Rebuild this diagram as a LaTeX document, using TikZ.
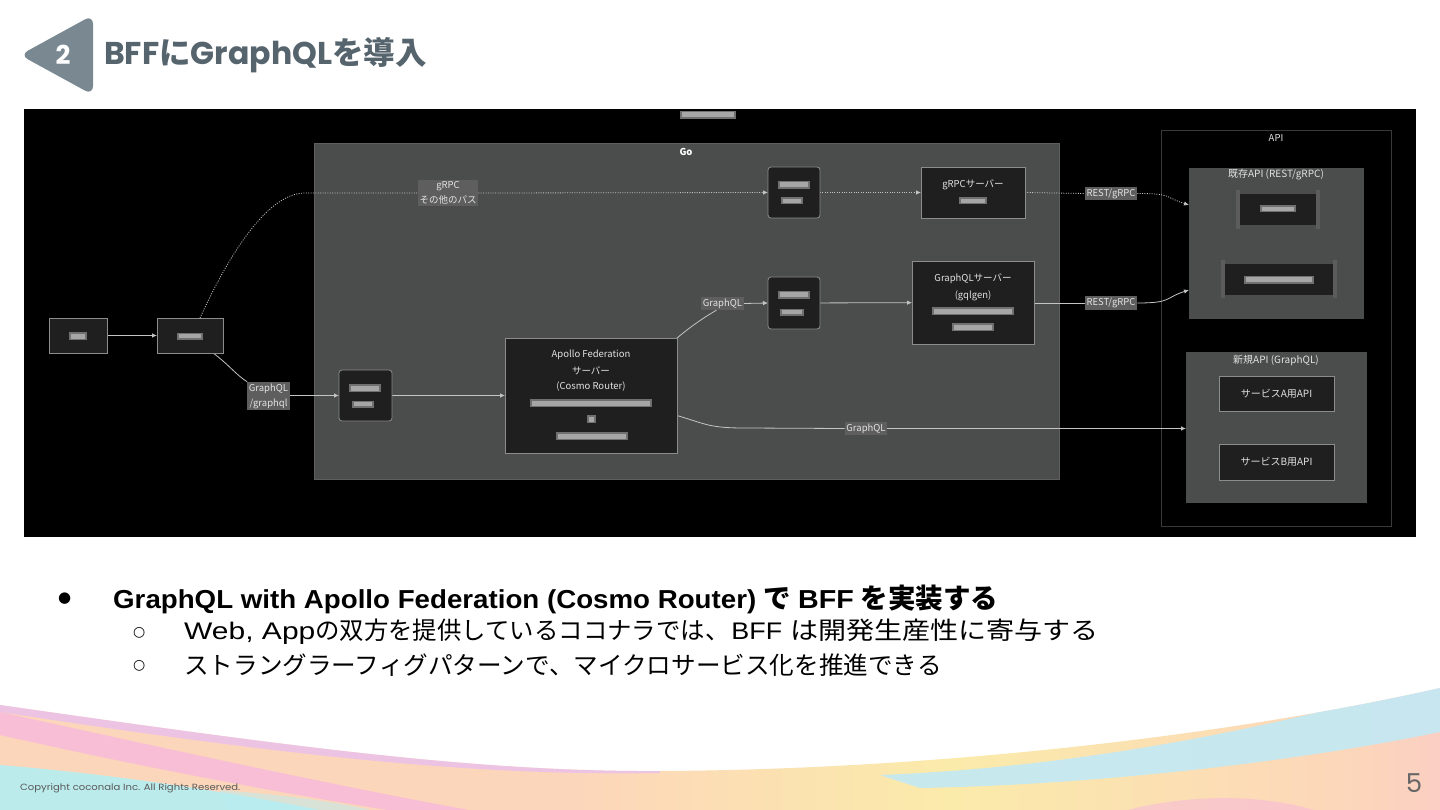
\documentclass[tikz,border=0pt]{standalone}
\usepackage{graphicx}
\usepackage{fontspec}
\setmainfont{Liberation Sans}
\newfontfamily\jp{Noto Sans CJK JP}
\newfontfamily\pop{Poppins}
\newfontfamily\dv{DejaVu Sans}
\usetikzlibrary{arrows.meta,calc}

\definecolor{titlec}{HTML}{56646D}
\definecolor{trig}{HTML}{7A8891}
\definecolor{gobg}{HTML}{4B4C4C}
\definecolor{gobd}{HTML}{5E5E5E}
\definecolor{apibd}{HTML}{3A3A3A}
\definecolor{nodebg}{HTML}{1F1F1F}
\definecolor{nodebd}{HTML}{8C8C8C}
\definecolor{lblbg}{HTML}{5E5E5E}
\definecolor{edgec}{HTML}{C4C4C4}
\definecolor{txt}{HTML}{E2E2E2}
\definecolor{blurA}{HTML}{707070}
\definecolor{blurB}{HTML}{A6A6A6}
\definecolor{sidebar}{HTML}{5C5C5C}
\definecolor{rpink}{HTML}{F7B8DD}
\definecolor{rlav}{HTML}{E9BDF2}
\definecolor{rpeach}{HTML}{FCD6BA}
\definecolor{ryellow}{HTML}{FBEBAA}
\definecolor{rcyan}{HTML}{B6EEF2}
\definecolor{rblue}{HTML}{C2E9F5}

\pgfdeclarehorizontalshading{rainbowh}{100bp}{color(0bp)=(ryellow); color(20bp)=(rpeach); color(45bp)=(rpeach); color(58bp)=(ryellow); color(72bp)=(rpeach); color(84bp)=(rpink); color(93bp)=(ryellow); color(100bp)=(ryellow)}

\pgfdeclarelayer{bg}
\pgfdeclarelayer{edges}
\pgfsetlayers{bg,edges,main}

\newcommand{\blurbar}[4]{%
  \fill[blurA] ({#1-#3/2},{#2-#4/2}) rectangle ++(#3,#4);
  \fill[blurB] ({#1-#3/2+2},{#2-#4/2+1.5}) rectangle ++({#3-4},{#4-3});}

\tikzset{
  panel/.style={inner sep=0, outer sep=0},
  box/.style={draw=nodebd, fill=nodebg, line width=0.8pt, inner sep=0, outer sep=0},
  rbox/.style={box, rounded corners=3pt},
  dtext/.style={text=txt, font=\jp\fontsize{9.5}{12}\selectfont, inner sep=0, align=center},
  ttext/.style={text=txt, font=\jp\bfseries\fontsize{9.5}{12}\selectfont, inner sep=0},
  lbl/.style={fill=lblbg, text=txt, font=\jp\fontsize{9.5}{15}\selectfont, inner sep=1.6pt, align=center},
  eline/.style={draw=edgec, line width=0.8pt},
  edge/.style={eline, -{Latex[length=5pt,width=4.5pt]}},
  dline/.style={draw=edgec, line width=0.8pt, dash pattern=on 1pt off 1.4pt},
  darrow/.style={dline, -{Latex[length=5pt,width=4.5pt]}},
  bullet/.style={anchor=west, inner sep=0},
}

\begin{document}
\begin{tikzpicture}[x=1pt,y=-1pt]
\useasboundingbox (0,0) rectangle (1440,810);
\begin{pgfonlayer}{bg}
\fill[white] (0,0) rectangle (1440,810);
\end{pgfonlayer}

% ---------- footer wave ----------
\begin{scope}
\clip (0,705) .. controls (300,748) and (480,772) .. (660,771) .. controls (900,770) and (1200,742) .. (1440,688) -- (1440,810) -- (0,810) -- cycle;
\shade[shading=rainbowh] (0,680) rectangle (1440,810);
\fill[rpink, opacity=0.8] (0,712) .. controls (150,745) and (330,785) .. (480,812) -- (400,812) .. controls (260,790) and (120,762) .. (0,735) -- cycle;
\fill[rlav, opacity=0.75] (0,700) .. controls (300,743) and (480,767) .. (660,766) -- (660,773) .. controls (480,776) and (300,758) .. (0,712) -- cycle;
\fill[rcyan, opacity=0.9] (0,765) .. controls (120,775) and (230,792) .. (330,812) -- (0,812) -- cycle;
\fill[rcyan, opacity=0.5] (220,790) .. controls (280,795) and (330,800) .. (380,812) -- (230,812) -- cycle;
\fill[rblue, opacity=0.9] (880,775) .. controls (1060,768) and (1250,735) .. (1440,680) -- (1440,732) .. controls (1290,763) and (1090,785) .. (920,788) -- cycle;
\fill[rpink, opacity=0.55] (1120,812) .. controls (1180,795) and (1260,792) .. (1320,812) -- cycle;
\end{scope}
\node[anchor=west, inner sep=0, text=black!65, font=\pop\fontsize{9}{10}\selectfont] (copy) at (20,788) {\scalebox{1.12}[1]{Copyright coconala Inc. All Rights Reserved.}};
\node[inner sep=0, text=black!60, font=\pop\fontsize{26}{30}\selectfont] (pnum) at (1414,783) {5};

% ---------- header ----------
\fill[trig, rounded corners=9pt] (20,55) -- (93,15) -- (93,95) -- cycle;
\node[text=white, font=\pop\bfseries\fontsize{26}{30}\selectfont, inner sep=0] (num) at (63,55) {2};
\node[anchor=west, inner sep=0, text=titlec, font=\fontsize{31.5}{36}\selectfont] (title) at (104,55)
  {{\pop\bfseries BFF}{\jp\bfseries に}{\pop\bfseries GraphQL}{\jp\bfseries を導入}};

% ---------- diagram panels ----------
\begin{pgfonlayer}{bg}
\node[panel, fill=black, minimum width=1392pt, minimum height=428pt] (panel) at (720,323) {};
\node[panel, fill=gobg, draw=gobd, line width=0.6pt, minimum width=745pt, minimum height=336pt] (gobox) at (686.5,311) {};
\node[panel, draw=apibd, line width=0.8pt, minimum width=230pt, minimum height=396pt] (apibox) at (1276,328) {};
\node[panel, fill=gobg, minimum width=175pt, minimum height=151pt] (kizon) at (1276.5,243.5) {};
\node[panel, fill=gobg, minimum width=181pt, minimum height=151pt] (shinki) at (1276.5,427.5) {};
\end{pgfonlayer}
\blurbar{708}{115}{56}{8}
\node[ttext, text=white] (golbl) at (686,152) {Go};
\node[dtext] (apilbl) at (1276,138) {API};
\node[dtext, font=\jp\fontsize{10}{12}\selectfont] (kzlbl) at (1276,175) {既存API (REST/gRPC)};
\node[dtext, font=\jp\fontsize{10}{12}\selectfont] (snlbl) at (1276,360) {新規API (GraphQL)};

% ---------- nodes ----------
\node[box, minimum width=58pt, minimum height=35pt] (n1) at (78,335.5) {};
\blurbar{78}{336}{18}{8}
\node[box, minimum width=66pt, minimum height=35pt] (n2) at (190,335.5) {};
\blurbar{190}{336}{26}{7}
\node[rbox, minimum width=53pt, minimum height=51pt] (n3) at (365.5,395.5) {};
\blurbar{365}{388}{32}{8}\blurbar{363}{404}{22}{7}
\node[box, minimum width=172pt, minimum height=115pt] (apollo) at (591,395.5) {};
\node[dtext] (ap1) at (591,355) {Apollo Federation};
\node[dtext] (ap2) at (591,371) {サーバー};
\node[dtext] (ap3) at (591,387) {(Cosmo Router)};
\blurbar{591}{403}{122}{8}\blurbar{591}{419}{9}{8}\blurbar{592}{436}{72}{8}
\node[rbox, minimum width=52pt, minimum height=51pt] (n4) at (794,192.5) {};
\blurbar{794}{185}{32}{8}\blurbar{792}{201}{22}{7}
\node[rbox, minimum width=52pt, minimum height=52pt] (n5) at (794,303) {};
\blurbar{794}{295}{32}{8}\blurbar{792}{312}{24}{7}
\node[box, minimum width=104pt, minimum height=51pt] (gs) at (973,192.5) {};
\node[dtext] (gs1) at (973,185) {gRPCサーバー};
\blurbar{973}{201}{28}{7}
\node[box, minimum width=122pt, minimum height=83pt] (gq) at (973,302.5) {};
\node[dtext] (gq1) at (973,279) {GraphQLサーバー};
\node[dtext] (gq2) at (973,296) {(gqlgen)};
\blurbar{973}{311}{82}{8}\blurbar{973}{327}{42}{8}
% existing API nodes
\fill[sidebar] (1236,190) rectangle (1240,229);
\fill[sidebar] (1316,190) rectangle (1320,229);
\node[panel, fill=nodebg, minimum width=76pt, minimum height=31pt] (kz1) at (1278,209.5) {};
\blurbar{1278}{209}{36}{7}
\fill[sidebar] (1221,260) rectangle (1225,298);
\fill[sidebar] (1333,260) rectangle (1337,298);
\node[panel, fill=nodebg, minimum width=108pt, minimum height=31pt] (kz2) at (1279,279.5) {};
\blurbar{1279}{280}{70}{8}
% new API nodes
\node[box, minimum width=115pt, minimum height=35pt, text=txt, font=\jp\fontsize{10}{12}\selectfont] (sa) at (1276.5,393.5) {サービスA用API};
\node[box, minimum width=115pt, minimum height=36pt, text=txt, font=\jp\fontsize{10}{12}\selectfont] (sb) at (1276.5,462) {サービスB用API};

% ---------- edge labels ----------
\node[lbl] (l1) at (268.5,396) {GraphQL\\/graphql};
\node[lbl] (lg) at (448,193) {gRPC\\その他のパス};
\node[lbl] (lq) at (722.5,303.5) {GraphQL};
\node[lbl] (lr1) at (1111,193.5) {REST/gRPC};
\node[lbl] (lr2) at (1111,303) {REST/gRPC};
\node[lbl] (lg2) at (866,428.5) {GraphQL};

\coordinate (cg) at (305,193);
\coordinate (k1) at ([yshift=-37pt]kizon.north west);
\coordinate (k2) at ([yshift=-122pt]kizon.north west);
\coordinate (a1) at ([yshift=-20pt]apollo.east);
\coordinate (a2) at (745,428);

% ---------- edges ----------
\begin{pgfonlayer}{edges}
\draw[edge] (n1) -- (n2);
\draw[eline] ([xshift=-10pt]n2.south east) .. controls +(14,10) and +(-10,-6) .. (l1.north west);
\draw[edge] (l1.east |- n3.west) -- (n3.west);
\draw[edge] (n3) -- (apollo);
\draw[dline] ([xshift=10pt]n2.north) .. controls +(25,-55) and +(-40,0) .. (cg) -- (lg.west);
\draw[darrow] (lg.east) -- (n4.west);
\draw[darrow] (n4) -- (gs);
\draw[dline] (gs.east) -- (lr1.west);
\draw[darrow] (lr1.east) .. controls +(35,0) and +(-25,-8) .. (k1);
\draw[eline] (apollo.north east) .. controls +(12,-10) and +(-14,8) .. ([xshift=-6pt]lq.south);
\draw[edge] (lq.east) -- (n5.west);
\draw[edge] (n5) -- (gq);
\draw[eline] (gq.east |- lr2.west) -- (lr2.west);
\draw[edge] (lr2.east) .. controls +(35,0) and +(-25,8) .. (k2);
\draw[eline] (a1) .. controls +(30,9) and +(-35,0) .. (a2) -- (lg2.west);
\draw[edge] (lg2.east) -- (lg2.east -| shinki.west);
\end{pgfonlayer}

% ---------- bullet text ----------
\node[bullet, font=\dv\fontsize{15}{18}\selectfont] (bu1) at (58,599) {●};
\node[bullet] (b1) at (113,599) {\fontsize{26}{30}\selectfont\bfseries\scalebox{1.065}[1]{GraphQL with Apollo Federation (Cosmo Router)} {\jp\fontsize{27.5}{30}\selectfont\bfseries で} \scalebox{1.1}[1]{BFF} {\jp\fontsize{27.5}{30}\selectfont\bfseries を実装する}};
\node[bullet, font=\dv\fontsize{14}{18}\selectfont] (bu2) at (133,633) {○};
\node[bullet] (b2) at (184,632) {\fontsize{24}{30}\selectfont\scalebox{1.25}[1]{Web, App}{\jp\fontsize{24.4}{30}\selectfont の双方を提供しているココナラでは、}\hspace{2pt}\scalebox{1.12}[1]{BFF}\hspace{8pt}{\jp\fontsize{24.4}{30}\selectfont\scalebox{1.15}[1]{は開発生産性に寄与する}}};
\node[bullet, font=\dv\fontsize{14}{18}\selectfont] (bu3) at (133,666) {○};
\node[bullet] (b3) at (184,665) {\jp\fontsize{24.6}{30}\selectfont ストラングラーフィグパターンで、マイクロサービス化を推進できる};
\end{tikzpicture}
\end{document}
